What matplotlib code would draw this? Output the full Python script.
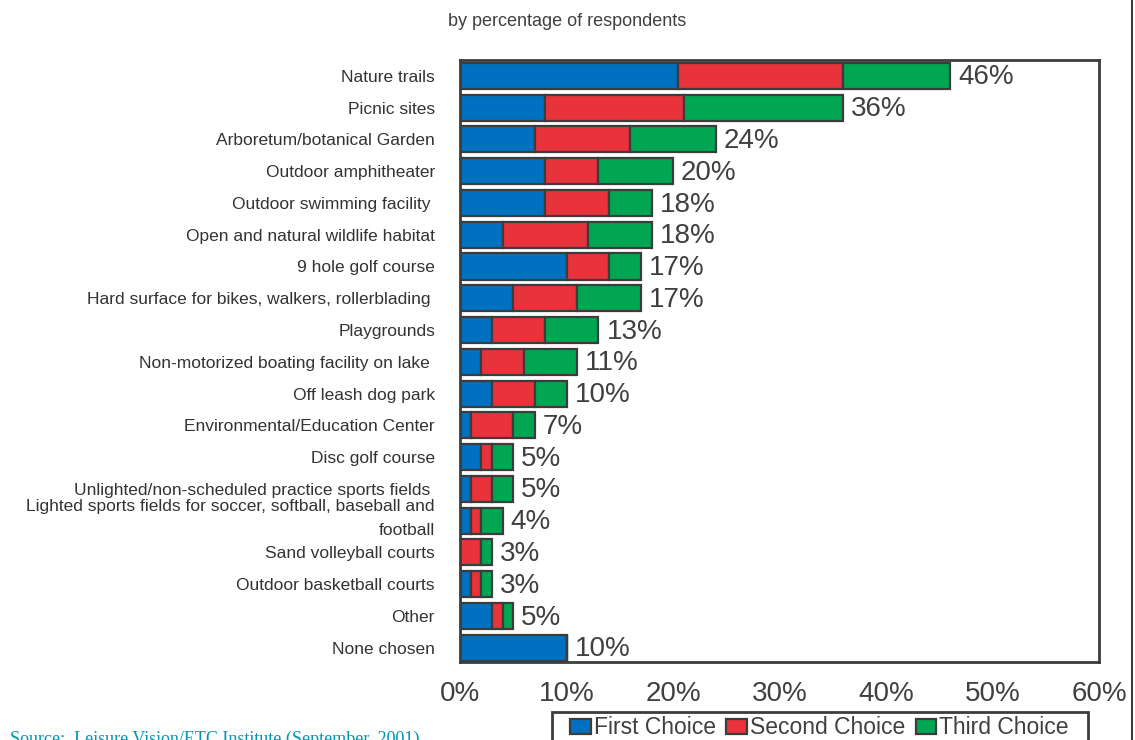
import matplotlib.pyplot as plt
import numpy as np

plt.rcParams['font.family'] = ['Liberation Sans', 'DejaVu Sans']

categories = [
    "Nature trails",
    "Picnic sites",
    "Arboretum/botanical Garden",
    "Outdoor amphitheater",
    "Outdoor swimming facility ",
    "Open and natural wildlife habitat",
    "9 hole golf course",
    "Hard surface for bikes, walkers, rollerblading ",
    "Playgrounds",
    "Non-motorized boating facility on lake ",
    "Off leash dog park",
    "Environmental/Education Center",
    "Disc golf course",
    "Unlighted/non-scheduled practice sports fields ",
    "Lighted sports fields for soccer, softball, baseball and\nfootball",
    "Sand volleyball courts",
    "Outdoor basketball courts",
    "Other",
    "None chosen",
]
first_choice = [20.5, 8, 7, 8, 8, 4, 10, 5, 3, 2, 3, 1, 2, 1, 1, 0, 1, 3, 10]
second_choice = [15.5, 13, 9, 5, 6, 8, 4, 6, 5, 4, 4, 4, 1, 2, 1, 2, 1, 1, 0]
third_choice = [10, 15, 8, 7, 4, 6, 3, 6, 5, 5, 3, 2, 2, 2, 2, 1, 1, 1, 0]
totals = ["46%", "36%", "24%", "20%", "18%", "18%", "17%", "17%", "13%", "11%",
          "10%", "7%", "5%", "5%", "4%", "3%", "3%", "5%", "10%"]
series_names = ["First Choice", "Second Choice", "Third Choice"]
colors = ["#0070C0", "#E8323C", "#00A651"]

fig = plt.figure(figsize=(11.35, 7.4), dpi=100)
ax = fig.add_axes([460 / 1135, 1 - 662 / 740, 639 / 1135, 602 / 740])

y = np.arange(len(categories))
first = np.array(first_choice, dtype=float)
second = np.array(second_choice, dtype=float)
third = np.array(third_choice, dtype=float)

edge = "#3c3c3c"
bars = []
left = np.zeros(len(categories))
for vals, col, name in zip([first, second, third], colors, series_names):
    b = ax.barh(y, vals, left=left, height=0.82, color=col, edgecolor=edge,
                linewidth=1.6, label=name)
    bars.append(b)
    left = left + vals

# total labels to the right of each bar
for yi, tot, lab in zip(y, left, totals):
    ax.text(tot + 0.75, yi + 0.05, lab, va='center', ha='left',
            fontsize=20, color="#404040")

ax.set_xlim(0, 60)
ax.set_ylim(len(categories) - 0.55, -0.5)
ax.set_xticks(np.arange(0, 61, 10))
ax.set_xticklabels([f"{v}%" for v in range(0, 61, 10)])
ax.set_yticks(y)
# two-line label is drawn by hand so its line spacing can be set
ax.set_yticklabels(["" if "\n" in c else c for c in categories])
ax.tick_params(axis='x', length=0, pad=14, labelsize=20, labelcolor="#404040")
ax.tick_params(axis='y', length=0, pad=18, labelsize=12.5, labelcolor="#333333")
for yi, c in zip(y, categories):
    if "\n" in c:
        ax.annotate(c, xy=(0, yi), xycoords=ax.get_yaxis_transform(),
                    xytext=(-18, 1.5), textcoords='offset points', ha='right',
                    va='center', multialignment='right', linespacing=1.75,
                    fontsize=12.5, color="#333333")
for sp in ax.spines.values():
    sp.set_color(edge)
    sp.set_linewidth(2)

fig.text(567 / 1135, 1 - 22 / 740, "by percentage of respondents", ha='center',
         va='center', fontsize=13, color="#404040")

# legend frame drawn separately, wider than its content like the original
fig.add_artist(plt.Rectangle((552 / 1135, -0.02), (1088 - 552) / 1135, 0.02 + (740 - 712) / 740,
                             transform=fig.transFigure, facecolor='white',
                             edgecolor=edge, linewidth=2))
leg = fig.legend(handles=bars, labels=series_names, ncol=3, loc='center left',
                 bbox_to_anchor=(559 / 1135, 1 - 728 / 740), fontsize=16.5,
                 frameon=False, handlelength=0.9, handleheight=0.6,
                 handletextpad=0.13, columnspacing=0.45, borderpad=0,
                 labelcolor="#404040")

fig.text(10 / 1135, 1 - 731 / 740, "Source:  Leisure Vision/ETC Institute (September, 2001)",
         ha='left', va='top', fontsize=13, color="#0096B4", family='Liberation Serif')

fig.add_artist(plt.Line2D([1132 / 1135, 1132 / 1135], [0, 1], transform=fig.transFigure,
                          color=edge, linewidth=1.5))

fig.savefig("out.png", dpi=100)
